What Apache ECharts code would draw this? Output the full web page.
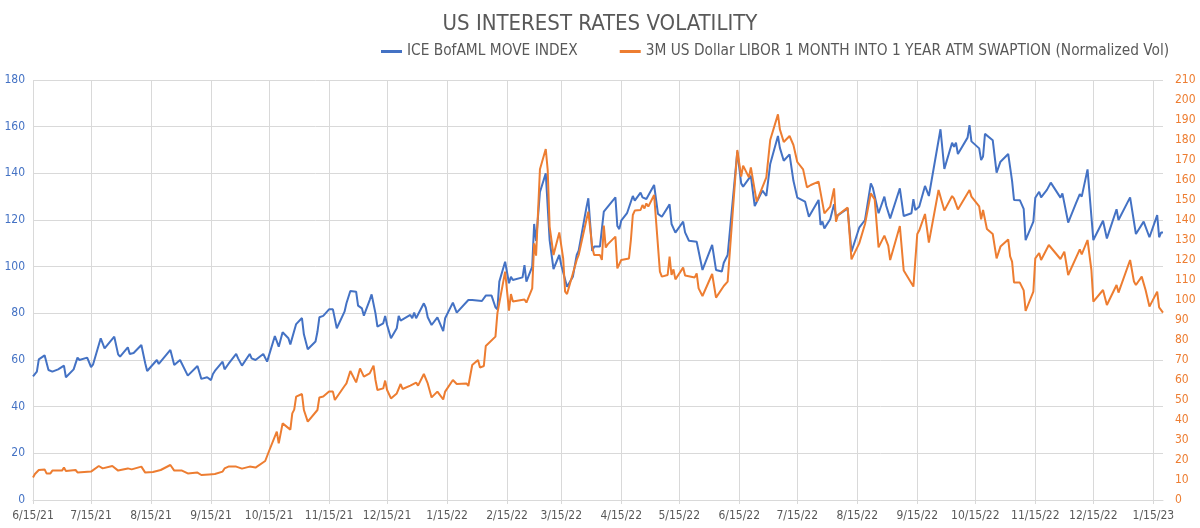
<!DOCTYPE html>
<html>
<head>
<meta charset="utf-8">
<script src="https://cdn.jsdelivr.net/npm/echarts@6/dist/echarts.min.js"></script>
<style>html,body{margin:0;padding:0;background:#fff;}#c{width:1200px;height:528px;}</style>
</head>
<body>
<div id="c"></div>
<script>
const tickLabels = ['6/15/21','7/15/21','8/15/21','9/15/21','10/15/21','11/15/21','12/15/21','1/15/22','2/15/22','3/15/22','4/15/22','5/15/22','6/15/22','7/15/22','8/15/22','9/15/22','10/15/22','11/15/22','12/15/22','1/15/23'];

const moveDates = ['6/15/21','6/17/21','6/18/21','6/21/21','6/23/21','6/25/21','6/28/21','7/1/21','7/2/21','7/6/21','7/8/21','7/9/21','7/13/21','7/15/21','7/16/21','7/20/21','7/22/21','7/23/21','7/27/21','7/29/21','7/30/21','8/3/21','8/4/21','8/5/21','8/6/21','8/10/21','8/12/21','8/13/21','8/18/21','8/19/21','8/25/21','8/27/21','8/30/21','9/3/21','9/8/21','9/10/21','9/13/21','9/14/21','9/15/21','9/16/21','9/17/21','9/21/21','9/22/21','9/24/21','9/28/21','9/29/21','10/1/21','10/5/21','10/6/21','10/8/21','10/12/21','10/14/21','10/18/21','10/20/21','10/22/21','10/25/21','10/26/21','10/29/21','11/1/21','11/2/21','11/3/21','11/4/21','11/8/21','11/9/21','11/10/21','11/12/21','11/15/21','11/17/21','11/19/21','11/23/21','11/24/21','11/26/21','11/29/21','11/30/21','12/2/21','12/3/21','12/6/21','12/7/21','12/8/21','12/9/21','12/10/21','12/13/21','12/14/21','12/15/21','12/17/21','12/20/21','12/21/21','12/22/21','12/27/21','12/28/21','12/29/21','12/30/21','12/31/21','1/3/22','1/4/22','1/5/22','1/7/22','1/10/22','1/11/22','1/13/22','1/14/22','1/18/22','1/20/22','1/21/22','1/26/22','1/28/22','2/2/22','2/4/22','2/7/22','2/9/22','2/10/22','2/11/22','2/14/22','2/16/22','2/17/22','2/18/22','2/23/22','2/24/22','2/25/22','2/28/22','3/1/22','3/2/22','3/4/22','3/7/22','3/9/22','3/11/22','3/14/22','3/15/22','3/18/22','3/21/22','3/23/22','3/24/22','3/28/22','3/29/22','3/31/22','4/1/22','4/4/22','4/6/22','4/7/22','4/12/22','4/13/22','4/14/22','4/15/22','4/18/22','4/19/22','4/21/22','4/22/22','4/25/22','4/26/22','4/27/22','4/28/22','4/29/22','5/2/22','5/4/22','5/5/22','5/6/22','5/10/22','5/11/22','5/12/22','5/13/22','5/17/22','5/18/22','5/19/22','5/20/22','5/24/22','5/27/22','6/1/22','6/3/22','6/6/22','6/7/22','6/9/22','6/10/22','6/14/22','6/16/22','6/17/22','6/21/22','6/23/22','6/27/22','6/29/22','7/1/22','7/5/22','7/6/22','7/8/22','7/11/22','7/12/22','7/13/22','7/14/22','7/15/22','7/19/22','7/21/22','7/26/22','7/27/22','7/28/22','7/29/22','8/1/22','8/3/22','8/4/22','8/10/22','8/12/22','8/16/22','8/19/22','8/22/22','8/23/22','8/24/22','8/26/22','8/29/22','8/30/22','8/31/22','9/1/22','9/6/22','9/7/22','9/8/22','9/12/22','9/13/22','9/14/22','9/16/22','9/19/22','9/21/22','9/27/22','9/28/22','9/29/22','10/3/22','10/4/22','10/5/22','10/6/22','10/11/22','10/12/22','10/13/22','10/17/22','10/18/22','10/19/22','10/20/22','10/24/22','10/26/22','10/28/22','11/1/22','11/3/22','11/4/22','11/7/22','11/9/22','11/10/22','11/14/22','11/15/22','11/17/22','11/18/22','11/21/22','11/23/22','11/28/22','11/29/22','11/30/22','12/2/22','12/6/22','12/8/22','12/9/22','12/12/22','12/15/22','12/20/22','12/22/22','12/27/22','12/28/22','12/29/22','1/3/23','1/6/23','1/10/23','1/13/23','1/17/23','1/18/23','1/19/23','1/20/23'];
const moveValues = [53,55,60.3,62,55.7,55,56,57.6,52.6,56,61,60,61,57,58,69.3,65,65.4,70,62.4,61.4,65.4,62.6,63,63,66.4,58.6,55.3,60,58.3,64.3,57.9,60,53.3,57.4,51.9,52.6,53.1,51.4,54,55.3,59.3,56,58.3,62.6,60.7,57.6,62.6,60.7,60,62.6,59.3,70.3,65.7,71.9,69.3,66.7,75.4,78,71,71,64.6,67.9,72.1,78.3,78.9,81.7,81.7,73.6,80.7,84.3,89.6,89.3,83.3,82.1,79,85.7,88.1,88.1,80,74.3,75.7,78.9,75,69.3,73.6,78.9,76.9,79.3,77.9,80.3,77.9,77.1,84.3,82.4,78.3,75,78.3,78.1,72.4,77.9,84.6,80.3,81.1,85.7,85.7,85.3,87.6,87.6,82.6,81.7,93.6,102.1,92.9,95.7,94.3,95.4,100.7,93.6,100,118.3,111,132,140,111.4,99,105,100.7,91.4,95.7,105,106.9,125.3,129.3,106.7,108.6,108.6,123.6,122.9,129.7,117.4,116.1,119.7,122.9,122.9,130.3,128.3,131.7,129.7,130,129,128.3,135,122.6,122.1,121.4,126.7,118.3,118.3,114.6,119.3,114.7,114.3,111.1,110.7,98.6,109.3,98.6,97.9,101.7,105,105,149.3,135.7,134.3,138.9,126,132.6,130.3,144,156,150.9,145.4,148.1,148.6,136.8,137.1,129.6,127.9,121.4,128.6,117.9,119.3,116.4,120.3,126.7,121.4,125,106.4,116.7,120,135.7,133.9,133.3,122.9,130,126,126.4,120.7,133.6,133.3,121.7,122.9,128.9,124.3,125.7,134.6,130.3,158.9,158.6,141.9,153.1,151.4,153.1,148.3,155.3,160.7,153.7,150.7,145.7,147.2,156.9,154.2,140.3,145,148.3,136.8,128.6,128.5,124.8,111.4,119.3,129.5,132.1,129.7,132.9,136,129.6,131.4,130.7,118.9,127.1,131.1,130,141.7,111.4,119.7,112.1,124.6,120,120,129.7,114,119.3,112.6,122.1,112.6,114.6,114.6];

const swpDates = ['6/15/21','6/16/21','6/17/21','6/18/21','6/21/21','6/22/21','6/24/21','6/25/21','6/30/21','7/1/21','7/2/21','7/7/21','7/8/21','7/9/21','7/15/21','7/19/21','7/21/21','7/26/21','7/29/21','7/30/21','8/3/21','8/5/21','8/6/21','8/10/21','8/12/21','8/16/21','8/18/21','8/20/21','8/25/21','8/27/21','8/31/21','9/3/21','9/8/21','9/10/21','9/14/21','9/17/21','9/21/21','9/22/21','9/23/21','9/24/21','9/28/21','10/1/21','10/5/21','10/8/21','10/13/21','10/14/21','10/15/21','10/19/21','10/20/21','10/22/21','10/26/21','10/27/21','10/28/21','10/29/21','11/1/21','11/2/21','11/4/21','11/9/21','11/10/21','11/12/21','11/15/21','11/17/21','11/18/21','11/23/21','11/24/21','11/26/21','11/29/21','12/1/21','12/3/21','12/6/21','12/8/21','12/9/21','12/10/21','12/13/21','12/14/21','12/15/21','12/17/21','12/20/21','12/22/21','12/23/21','12/27/21','12/30/21','12/31/21','1/3/22','1/5/22','1/7/22','1/10/22','1/13/22','1/14/22','1/18/22','1/20/22','1/25/22','1/26/22','1/28/22','1/31/22','2/1/22','2/3/22','2/4/22','2/9/22','2/10/22','2/14/22','2/16/22','2/17/22','2/18/22','2/24/22','2/25/22','2/28/22','3/1/22','3/2/22','3/4/22','3/7/22','3/8/22','3/9/22','3/11/22','3/14/22','3/16/22','3/17/22','3/18/22','3/23/22','3/24/22','3/28/22','3/29/22','3/31/22','4/1/22','4/4/22','4/5/22','4/6/22','4/7/22','4/8/22','4/12/22','4/13/22','4/14/22','4/15/22','4/19/22','4/20/22','4/21/22','4/22/22','4/25/22','4/26/22','4/27/22','4/28/22','4/29/22','5/2/22','5/5/22','5/6/22','5/9/22','5/10/22','5/11/22','5/12/22','5/13/22','5/17/22','5/18/22','5/23/22','5/24/22','5/25/22','5/27/22','6/1/22','6/3/22','6/7/22','6/9/22','6/14/22','6/16/22','6/17/22','6/20/22','6/21/22','6/24/22','6/29/22','7/1/22','7/5/22','7/6/22','7/8/22','7/11/22','7/13/22','7/14/22','7/15/22','7/18/22','7/20/22','7/22/22','7/26/22','7/29/22','8/1/22','8/3/22','8/4/22','8/5/22','8/10/22','8/12/22','8/16/22','8/19/22','8/22/22','8/24/22','8/26/22','8/29/22','8/30/22','8/31/22','9/1/22','9/6/22','9/8/22','9/13/22','9/15/22','9/16/22','9/19/22','9/21/22','9/26/22','9/27/22','9/29/22','10/3/22','10/4/22','10/6/22','10/12/22','10/13/22','10/17/22','10/18/22','10/19/22','10/21/22','10/24/22','10/26/22','10/28/22','11/1/22','11/2/22','11/3/22','11/4/22','11/7/22','11/9/22','11/10/22','11/14/22','11/15/22','11/17/22','11/18/22','11/22/22','11/23/22','11/28/22','11/30/22','12/2/22','12/8/22','12/9/22','12/12/22','12/14/22','12/15/22','12/20/22','12/22/22','12/27/22','12/28/22','12/29/22','1/3/23','1/5/23','1/6/23','1/9/23','1/10/23','1/11/23','1/13/23','1/17/23','1/18/23','1/20/23'];
const swpValues = [11.3,13,12.8,15,15.3,13.3,13.3,14.7,14.7,16.2,14.5,15,13.8,14.7,14.2,17,15.8,17,14.7,14.5,15.8,15.3,15.7,16.7,13.7,14,14.5,15,17.5,14.7,14.7,13.3,13.7,12.5,12.8,13,14.2,15.8,15,16.7,16.7,15.7,16.7,16.2,19.5,18.5,24.5,34.2,28.3,38.3,35.2,43.3,45.2,51.7,53,45,39.2,45,51.3,51.7,54.2,54.2,50,57,58.3,64.5,58.8,65.8,61.7,63.3,67.2,60,55,55.8,59.7,55,50.8,53.3,58,55.5,57.2,58.7,57.2,63,58.3,51.3,54.2,50.3,54.2,60,58,58.3,57,67.5,70,66.2,67,77,81.7,93.3,114.2,94.7,103,99.2,100.3,98.7,105.8,128.3,122.2,165.4,175.5,165,136.7,122.5,133.8,120.8,104.2,103,120,122.5,140,144.2,126.7,122.5,122.5,120,137.2,126.2,127.8,131.7,115.8,115,120,120.8,130,142.5,144.7,145,147.5,145.8,148.3,146.7,152.5,114.2,111.7,112.5,121.7,112.5,115.3,110.3,116.2,112.2,111.3,113.3,105.8,102,113,101.2,107,109.2,175,161.7,167.2,161.3,166.3,149.2,161.3,180,192.8,185.3,179,182,177.5,178.5,169,165.3,156.3,157.5,159.2,143.3,146.7,155.8,139.2,142.5,146.2,120.3,128.3,138,153.3,150.3,126.3,132.2,131.7,127.2,120,137,114.7,106.7,133,134.7,143,128.7,155,155.8,144.7,152,150.7,145.3,155,151.7,146.8,140.3,145,135.5,133,120.8,126.7,130.3,121.8,119.2,108.8,108.7,104.8,94.5,104.2,120.8,123.5,120,127.5,127.5,120.5,124.2,112.5,125.3,122.8,130,115,99.2,105,97.5,107.5,103.7,104.2,120,109.2,107.5,111.7,110.8,105,96.7,104.2,96.3,93.7];

// one category per calendar day
const categories = [];
for (let t = Date.UTC(2021, 5, 15); t <= Date.UTC(2023, 0, 20); t += 86400000) {
  const d = new Date(t);
  categories.push((d.getUTCMonth() + 1) + '/' + d.getUTCDate() + '/' + String(d.getUTCFullYear()).slice(2));
}
const isTick = (i, v) => tickLabels.indexOf(v) >= 0;
const FONT = "'Liberation Sans Narrow','DejaVu Sans Condensed',Roboto,sans-serif";

const chart = echarts.init(document.getElementById('c'), null, {renderer: 'canvas'});
chart.setOption({
  animation: false,
  backgroundColor: '#fff',
  title: {
    text: 'US INTEREST RATES VOLATILITY',
    left: 'center', top: 8,
    textStyle: {fontFamily: FONT, fontSize: 22, fontWeight: 'normal', color: '#595959'}
  },
  legend: {
    left: 376, top: 39, itemGap: 42, itemWidth: 21, itemHeight: 3, icon: 'rect',
    textStyle: {fontFamily: FONT, fontSize: 15.3, color: '#595959'},
    data: ['ICE BofAML MOVE INDEX', '3M US Dollar LIBOR 1 MONTH INTO 1 YEAR ATM SWAPTION (Normalized Vol)']
  },
  grid: {left: 33, right: 37, top: 80, bottom: 28},
  xAxis: {
    type: 'category', data: categories, boundaryGap: false,
    axisLine: {lineStyle: {color: '#D9D9D9'}},
    axisTick: {show: true, interval: isTick, length: 4, lineStyle: {color: '#D9D9D9'}},
    axisLabel: {interval: isTick, color: '#595959', fontFamily: FONT, fontSize: 12, margin: 10},
    splitLine: {show: true, interval: isTick, lineStyle: {color: '#D9D9D9'}}
  },
  yAxis: [
    {type: 'value', min: 0, max: 180, interval: 20,
     axisLine: {show: false}, axisTick: {show: false},
     axisLabel: {color: '#4472C4', fontFamily: FONT, fontSize: 12, margin: 8},
     splitLine: {lineStyle: {color: '#D9D9D9'}}},
    {type: 'value', min: 0, max: 210, interval: 10, position: 'right',
     axisLine: {show: false}, axisTick: {show: false},
     axisLabel: {color: '#ED7D31', fontFamily: FONT, fontSize: 12, margin: 12},
     splitLine: {show: false}}
  ],
  series: [
    {name: 'ICE BofAML MOVE INDEX', type: 'line', yAxisIndex: 0, showSymbol: false,
     color: '#4472C4', lineStyle: {width: 2, color: '#4472C4'},
     data: moveDates.map((d, i) => [categories.indexOf(d), moveValues[i]])},
    {name: '3M US Dollar LIBOR 1 MONTH INTO 1 YEAR ATM SWAPTION (Normalized Vol)', type: 'line', yAxisIndex: 1, showSymbol: false,
     color: '#ED7D31', lineStyle: {width: 2, color: '#ED7D31'},
     data: swpDates.map((d, i) => [categories.indexOf(d), swpValues[i]])}
  ]
});
</script>
</body>
</html>
